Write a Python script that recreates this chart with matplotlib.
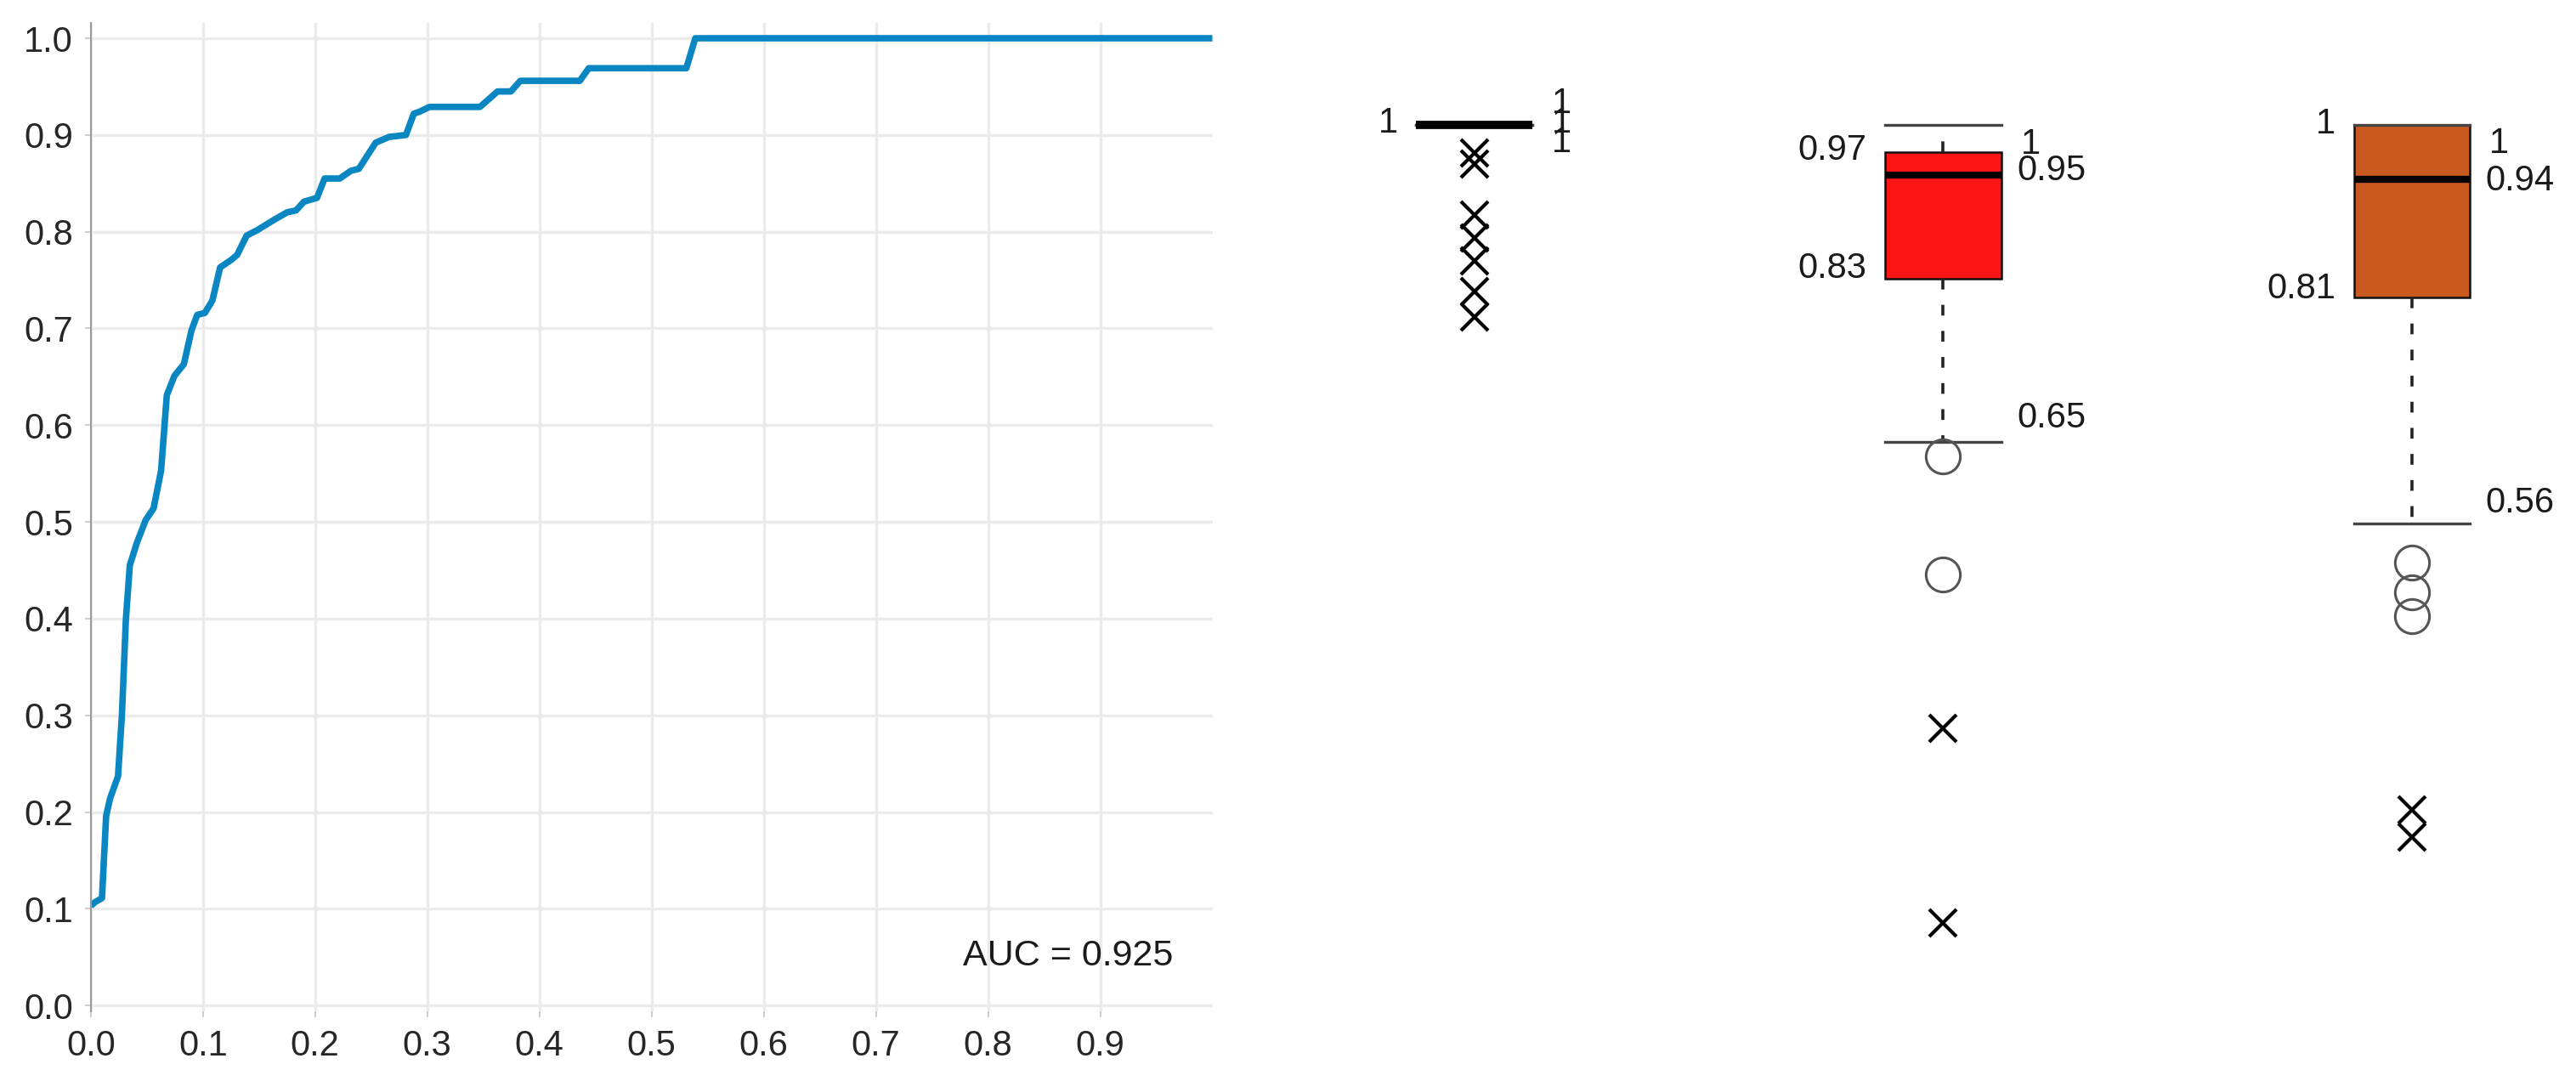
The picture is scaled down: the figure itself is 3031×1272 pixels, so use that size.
import matplotlib
matplotlib.use('Agg')
import matplotlib.pyplot as plt

plt.rcParams['font.family'] = ['Liberation Sans', 'DejaVu Sans']

# ---------------- data ----------------
fpr = [0.0, 0.004, 0.010, 0.0137, 0.0172, 0.0243, 0.0278, 0.0313, 0.0348, 0.041,
       0.049, 0.056, 0.0627, 0.0678, 0.0746, 0.083, 0.0898, 0.0949, 0.1017, 0.1085,
       0.1153, 0.1254, 0.1305, 0.139, 0.149, 0.163, 0.175, 0.183, 0.19, 0.2017,
       0.2085, 0.222, 0.232, 0.239, 0.254, 0.266, 0.281, 0.288, 0.293, 0.302,
       0.347, 0.3627, 0.3746, 0.383, 0.436, 0.444, 0.531, 0.539, 1.0]
tpr = [0.103, 0.107, 0.111, 0.196, 0.214, 0.237, 0.301, 0.399, 0.455, 0.478,
       0.502, 0.514, 0.553, 0.631, 0.651, 0.663, 0.698, 0.714, 0.716, 0.729,
       0.763, 0.771, 0.776, 0.796, 0.802, 0.812, 0.820, 0.822, 0.831, 0.835,
       0.855, 0.855, 0.863, 0.865, 0.892, 0.898, 0.900, 0.922, 0.924, 0.929,
       0.929, 0.945, 0.945, 0.956, 0.956, 0.969, 0.969, 1.0, 1.0]
auc_text = "AUC = 0.925"
x_ticks = [0.0, 0.1, 0.2, 0.3, 0.4, 0.5, 0.6, 0.7, 0.8, 0.9]
x_ticklabels = ["0.0", "0.1", "0.2", "0.3", "0.4", "0.5", "0.6", "0.7", "0.8", "0.9"]
y_ticks = [0.0, 0.1, 0.2, 0.3, 0.4, 0.5, 0.6, 0.7, 0.8, 0.9, 1.0]
y_ticklabels = ["0.0", "0.1", "0.2", "0.3", "0.4", "0.5", "0.6", "0.7", "0.8", "0.9", "1.0"]

box_med = [1.0, 0.945, 0.94]
box_q1 = [1.0, 0.83, 0.81]
box_q3 = [1.0, 0.97, 1.0]
box_lo = [1.0, 0.65, 0.56]
box_hi = [1.0, 1.0, 1.0]
box_colors = ['white', '#FF1414', '#C8591F']
circle_outliers = [[], [0.634, 0.504], [0.517, 0.484, 0.458]]
cross_outliers = [[0.969, 0.957, 0.901, 0.875, 0.850, 0.816, 0.788],
                  [0.334, 0.119],
                  [0.244, 0.214]]

# annotation labels: (box index, text, y)
left_labels = [(0, "1", 1.002), (1, "0.97", 0.972), (1, "0.83", 0.841),
               (2, "1", 1.001), (2, "0.81", 0.819)]
right_labels = [(0, "1", 1.023), (0, "1", 1.002), (0, "1", 0.980),
                (1, "1", 0.978), (1, "0.95", 0.949), (1, "0.65", 0.676),
                (2, "1", 0.979), (2, "0.94", 0.938), (2, "0.56", 0.583)]

# ---------------- figure ----------------
W, H = 3031, 1272
fig = plt.figure(figsize=(W / 100, H / 100), dpi=100)

# ROC panel
ax = fig.add_axes([106.8 / W, (H - 1190) / H, (1426.5 - 106.8) / W, (1190 - 26.8) / H])
ax.plot(fpr, tpr, color='#0A87C2', lw=5.5, solid_joinstyle='round', solid_capstyle='butt')
ax.set_xlim(0, 1)
ax.set_ylim(-0.006, 1.016)
ax.set_xticks(x_ticks)
ax.set_xticklabels(x_ticklabels)
ax.set_yticks(y_ticks)
ax.set_yticklabels(y_ticklabels)
ax.grid(True, color='#ebebeb', lw=2.5)
ax.set_axisbelow(True)
for s in ['top', 'right', 'bottom']:
    ax.spines[s].set_visible(False)
ax.spines['left'].set_color('#9a9a9a')
ax.spines['left'].set_linewidth(1.5)
ax.tick_params(axis='both', labelsize=30, labelcolor='#262626', color='#cfcfcf',
               length=5, width=1.5, pad=10)
ax.text(0.965, 0.0515, auc_text, ha='right', va='center', fontsize=31, color='#1a1a1a')

# Box plot panel
bx_left = 1459
bax = fig.add_axes([bx_left / W, 59 / H, (W - bx_left) / W, 1172.6 / H])
bax.set_xlim(0.5, 3.35)
bax.set_ylim(0, 1.1)
bax.axis('off')

positions = [1, 2, 3]
stats = []
for i in range(3):
    stats.append(dict(med=box_med[i], q1=box_q1[i], q3=box_q3[i],
                      whislo=box_lo[i], whishi=box_hi[i], fliers=[]))
bw = 0.248
res = bax.bxp(stats, positions=positions, widths=bw, capwidths=bw,
              patch_artist=True, showfliers=False,
              boxprops=dict(edgecolor='#111111', linewidth=1.8),
              whiskerprops=dict(color='#222222', linewidth=2.6, linestyle=(0, (3.5, 5))),
              capprops=dict(color='#444444', linewidth=2.4),
              medianprops=dict(color='black', linewidth=6, solid_capstyle='butt'))
for patch, c in zip(res['boxes'], box_colors):
    patch.set_facecolor(c)
res['boxes'][0].set_edgecolor('none')
res['medians'][0].set_linewidth(7)

for i, p in enumerate(positions):
    if circle_outliers[i]:
        bax.plot([p] * len(circle_outliers[i]), circle_outliers[i], 'o',
                 mfc='none', mec='#555555', ms=29, mew=2.2)
    if cross_outliers[i]:
        bax.plot([p] * len(cross_outliers[i]), cross_outliers[i], 'x',
                 color='black', ms=23, mew=3)

lab_kw = dict(fontsize=30, color='#1a1a1a', va='center')
for i, t, y in left_labels:
    bax.text(positions[i] - 0.163, y, t, ha='right', **lab_kw)
for i, t, y in right_labels:
    off = 0.165 if t == "1" else 0.157
    bax.text(positions[i] + off, y, t, ha='left', **lab_kw)

fig.savefig('out.png', dpi=100, facecolor='white')
